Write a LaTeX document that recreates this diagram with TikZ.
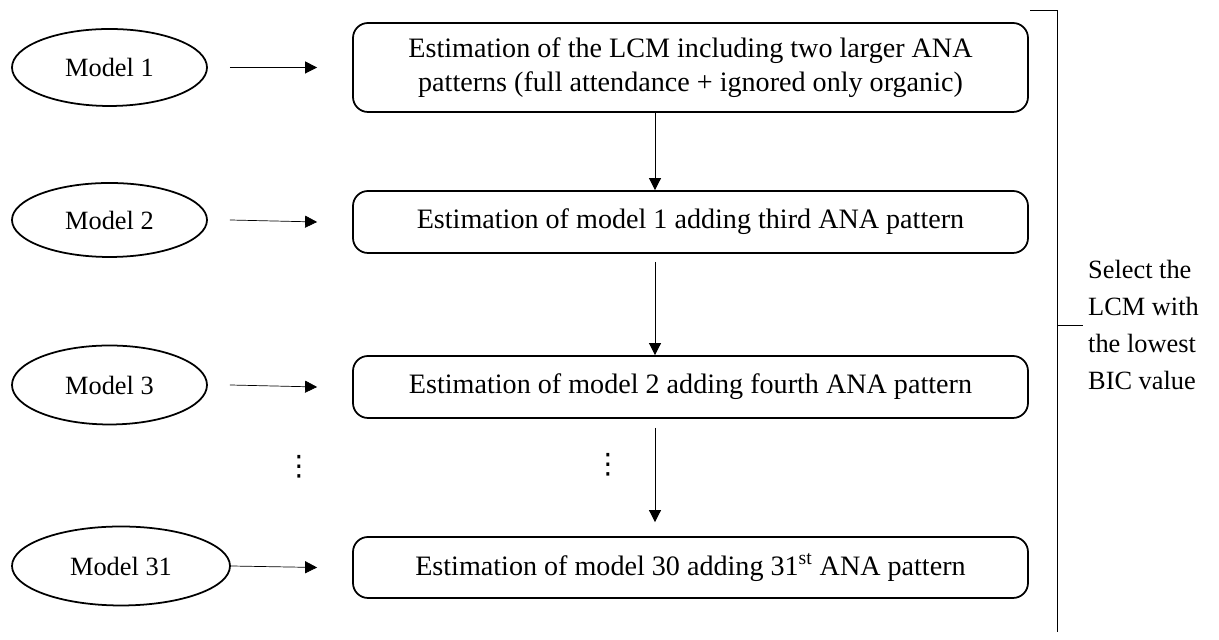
\documentclass[tikz,border=0pt]{standalone}
\usepackage{fontspec}
\setmainfont{Liberation Serif}
\newfontfamily\dotsfont{DejaVu Sans}
\usetikzlibrary{positioning,arrows.meta,shapes.geometric,calc}

\begin{document}
\begin{tikzpicture}[>={Triangle[length=2.4mm,width=2.4mm]},
  model/.style={ellipse,draw,line width=1pt,minimum width=3.9cm,minimum height=1.54cm,inner sep=0pt,font=\fontsize{15}{18}\selectfont},
  stepbox/.style={draw,rounded corners=3mm,line width=1pt,minimum width=13.5cm,minimum height=1.24cm,align=center,font=\fontsize{16}{19}\selectfont},
  gap/.style={font=\dotsfont\fontsize{16}{18}\selectfont}]
\useasboundingbox (0,0) rectangle (24.38,12.8);
\node (b1) [stepbox,minimum height=1.78cm] at (13.81,11.45) {Estimation of the LCM including two larger ANA\\patterns (full attendance + ignored only organic)};
\node (b2) [stepbox] at (13.81,8.36) {Estimation of model 1 adding third ANA pattern};
\node (b3) [stepbox] at (13.81,5.06) {Estimation of model 2 adding fourth ANA pattern};
\node (b4) [stepbox,minimum height=1.22cm] at (13.81,1.45) {Estimation of model 30 adding 31\textsuperscript{st} ANA pattern};
\node (m1) [model] at (2.19,11.45) {Model 1};
\node (m2) [model,minimum height=1.48cm] at (2.19,8.4) {Model 2};
\node (m3) [model,minimum height=1.58cm] at (2.19,5.1) {Model 3};
\node (m4) [model,minimum width=4.36cm,minimum height=1.58cm] at (2.42,1.48) {Model 31};
\node (d1) [gap] at (5.98,3.46) {⋮};
\node (d2) [gap] at (12.16,3.5) {⋮};
\node (sel) [anchor=west,align=left,font=\fontsize{15}{21}\selectfont] at (21.64,6.3) {Select the\\LCM with\\the lowest\\BIC value};
\coordinate (vx) at (13.1,0);
\coordinate (e3) at ($(b4.north -| vx)+(0,0.28)$);
\draw[->] ([xshift=0.44cm]m1.east) -- ([xshift=-0.7cm]b1.west);
\draw[->] ([xshift=0.44cm]m2.east) -- ([xshift=-0.7cm]b2.west);
\draw[->] ([xshift=0.44cm]m3.east) -- ([xshift=-0.7cm]b3.west);
\draw[->] (m4.east) -- ([xshift=-0.7cm]b4.west);
\draw[->] (b1.south -| vx) -- (b2.north -| vx);
\draw[->] ($(b2.south -| vx)+(0,-0.16)$) -- (b3.north -| vx);
\draw[->] ($(b3.south -| vx)+(0,-0.18)$) -- (e3);
\draw (20.6,12.6) -- (21.14,12.6) -- (21.14,0.16);
\draw (21.14,6.3) -- (21.66,6.3);
\end{tikzpicture}
\end{document}
